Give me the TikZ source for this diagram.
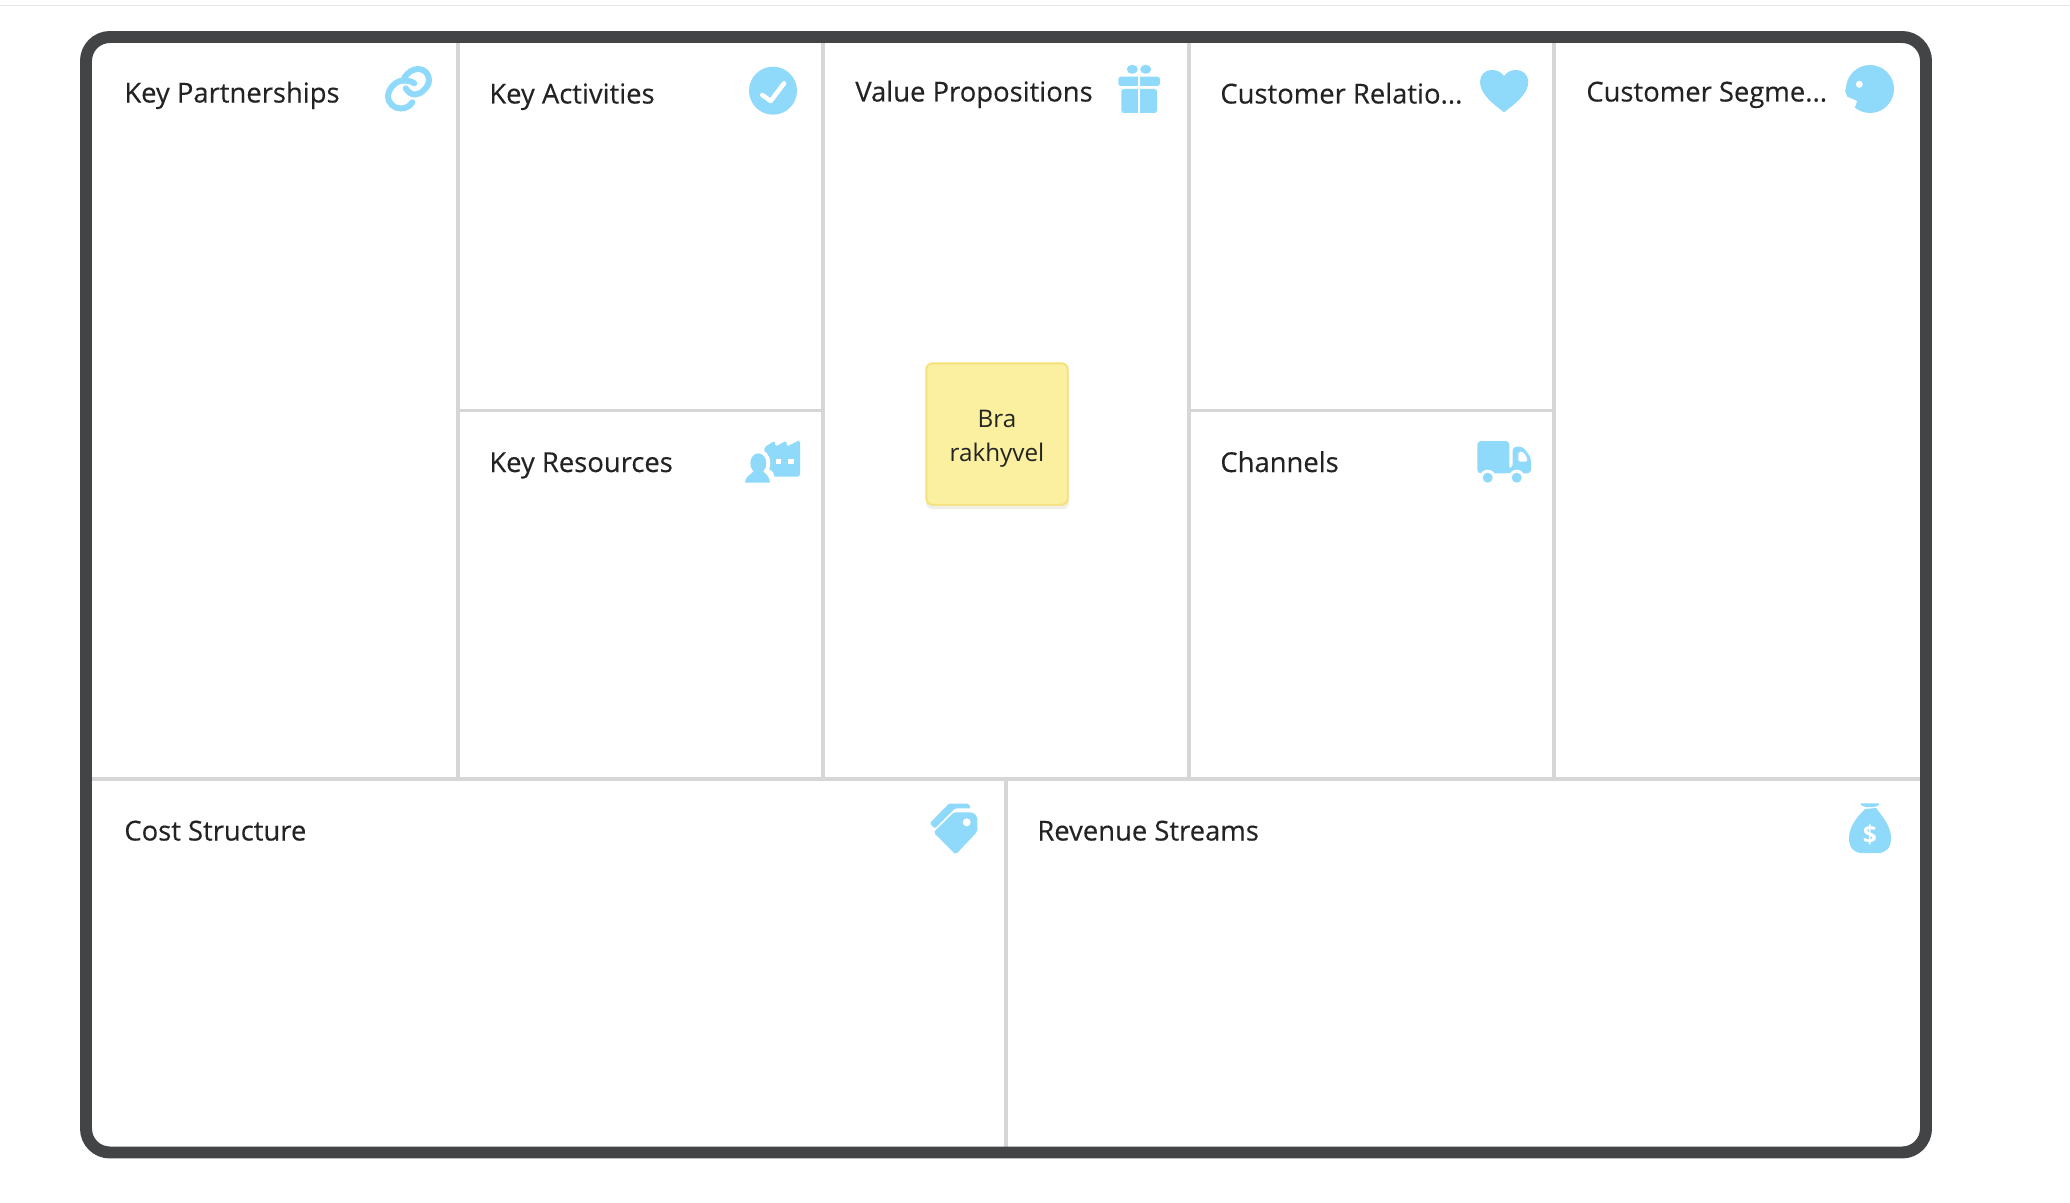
\documentclass[tikz,border=0pt]{standalone}
\usepackage{fontspec}
\setmainfont{Open Sans}
\newfontfamily\titlefont{Open Sans}[FakeBold=0.3]
\definecolor{framegray}{HTML}{434446}
\definecolor{linegray}{HTML}{D6D6D6}
\definecolor{topgray}{HTML}{E6E6E6}
\definecolor{iconblue}{HTML}{8FD9FA}
\definecolor{notefill}{HTML}{FBF0A0}
\definecolor{noteedge}{HTML}{F5E177}
\definecolor{noteshade}{HTML}{EFEFE6}
\definecolor{inkgray}{HTML}{232323}
\tikzset{
  divider/.style={draw=linegray, line width=2pt},
  celltitle/.style={anchor=base west, inner sep=0pt, text=inkgray, font=\titlefont\fontsize{15.6}{18}\selectfont},
  iconfill/.style={fill=iconblue, draw=none},
  iconlink/.style={draw=iconblue, line width=3.4pt, line cap=round},
  iconhole/.style={fill=white, draw=none},
  stickynote/.style={rectangle, rounded corners=3.5pt, fill=notefill, draw=noteedge, line width=1.1pt,
    minimum width=80.5pt, minimum height=80.5pt, inner sep=0pt},
  stickytext/.style={inner sep=0pt, align=center, text=inkgray, font=\fontsize{13.8}{19.3}\selectfont}
}
\begin{document}
\begin{tikzpicture}[x=0.02cm,y=0.02cm]
      \useasboundingbox (0,0) rectangle (2070,-1203);
      \draw [topgray, line width=1.1pt] (0,-5.5) -- (2070,-5.5);
      % grid
      \draw [divider] (458,-40) -- (458,-779);
      \draw [divider] (823,-40) -- (823,-779);
      \draw [divider] (1189,-40) -- (1189,-779);
      \draw [divider] (1554,-40) -- (1554,-779);
      \draw [divider] (458,-410.7) -- (823,-410.7);
      \draw [divider] (1189,-410.7) -- (1554,-410.7);
      \draw [divider] (90,-779) -- (1922,-779);
      \draw [divider] (1006,-779) -- (1006,-1148);
      \draw [framegray, line width=6.8pt, rounded corners=13.6pt] (86,-37) rectangle (1926,-1152.5);
      % titles
      \node [celltitle] (partners) at (124,-102.5) {Key Partnerships};
      \node [celltitle] (activities) at (489,-103.5) {Key Activities};
      \node [celltitle] (resources) at (489,-472) {Key Resources};
      \node [celltitle] (value) at (855,-101.5) {Value Propositions};
      \node [celltitle] (relations) at (1220,-103.5) {Customer Relatio...};
      \node [celltitle] (channels) at (1220,-472) {Channels};
      \node [celltitle] (segments) at (1586,-101.5) {Customer Segme...};
      \node [celltitle] (costs) at (124,-840.5) {Cost Structure};
      \node [celltitle] (revenue) at (1037,-840.5) {Revenue Streams};
      % note
      \fill [noteshade, rounded corners=3.5pt] (926,-368) rectangle (1069,-509);
      \node [stickynote] (note) at (997,-434) {};
      \node [stickytext] (notetext) at (997,-439) {Bra\\rakhyvel};
      % link icon
      \draw [iconlink] (404.3,-77.7) .. controls (408,-72) and (413,-69) .. (418.3,-69)
        .. controls (424.5,-69) and (429,-74) .. (429,-80)
        .. controls (429,-84) and (427,-87) .. (424,-90)
        .. controls (421,-93) and (418,-94.5) .. (415,-94.5)
        .. controls (411,-94.5) and (408,-92) .. (405.7,-88.3);
      \draw [iconlink] (414.3,-83.3) .. controls (412,-81.5) and (408,-80.5) .. (404.5,-80.5)
        .. controls (400,-80.5) and (396.5,-82) .. (393.5,-85)
        .. controls (390.5,-88) and (388,-92) .. (388,-96.7)
        .. controls (388,-103) and (394,-108.5) .. (400.5,-108.5)
        .. controls (406,-108.5) and (410,-106) .. (412.3,-102.3);
      % check icon
      \fill [iconfill] (773,-90.7) circle (24);
      \draw [white, line width=2.6pt, line cap=round, line join=round] (762.3,-95) -- (770.7,-101) -- (784,-83.3);
      % gift icon
      \fill [iconfill] (1132.3,-69.3) ellipse (5.5 and 4.5);
      \fill [iconfill] (1145.7,-69.3) ellipse (5.5 and 4.5);
      \fill [iconfill, rounded corners=1.5pt] (1118.3,-76.7) rectangle (1160,-86);
      \fill [iconfill, rounded corners=1.5pt] (1121.3,-89) rectangle (1157,-113);
      \fill [iconhole] (1137.7,-76) rectangle (1140,-114);
      % heart icon
      \fill [iconfill] (1504,-76) .. controls (1500,-71) and (1496,-70) .. (1491.5,-70)
        .. controls (1485,-70) and (1480,-75) .. (1480,-82)
        .. controls (1480,-95) and (1496,-106) .. (1504,-112.3)
        .. controls (1512,-106) and (1528.3,-95) .. (1528.3,-82)
        .. controls (1528.3,-75) and (1523,-70) .. (1516.5,-70)
        .. controls (1512,-70) and (1508,-71) .. (1504,-76);
      % face icon
      \fill [iconfill] (1870,-89) circle (24);
      \fill [iconfill] (1850,-78) -- (1845,-91) -- (1848,-97) -- (1856,-96) -- cycle;
      \fill [iconhole] (1848,-97) -- (1857,-101) -- (1855,-107) -- (1843,-108) -- (1841,-98) -- cycle;
      \fill [iconhole] (1859.3,-84.3) circle (3.5);
      % factory icon
      \fill [iconfill, rounded corners=1pt] (764.3,-447.3) -- (775,-440.7) -- (775,-446.7) -- (786.7,-440.7) -- (786.7,-446.7) -- (798.3,-440.7) -- (800,-440.7) -- (800,-476.7) -- (765,-476.7) -- cycle;
      \fill [iconhole] (775.7,-459) rectangle (781,-464);
      \fill [iconhole] (787.7,-459) rectangle (793.7,-464);
      % person in front of it
      \fill [iconhole] (758.3,-463) ellipse (12 and 14);
      \fill [iconhole, rounded corners=4pt] (745,-469) rectangle (774,-484);
      \fill [iconfill] (758.3,-463.3) ellipse (8 and 10);
      \fill [iconfill] (745,-482.7) .. controls (745,-476) and (752,-474) .. (755,-470) -- (762,-470) .. controls (765,-474) and (770,-476) .. (770,-482.7) -- cycle;
      % truck icon
      \fill [iconfill, rounded corners=2pt] (1477.3,-441) rectangle (1509.3,-473.3);
      \fill [iconfill, rounded corners=2pt] (1512.7,-446.7) -- (1523,-446.7) -- (1531,-458) -- (1531,-473.3) -- (1505,-473.3) -- (1505,-468) -- (1512.7,-468) -- cycle;
      \fill [iconhole, rounded corners=1pt] (1518.3,-451.7) -- (1523,-451.7) -- (1527.3,-458) -- (1527.3,-461.7) -- (1518.3,-461.7) -- cycle;
      \fill [iconhole] (1487.7,-477.7) circle (8);
      \fill [iconhole] (1516.7,-477.7) circle (8);
      \fill [iconfill] (1487.7,-477.7) circle (5);
      \fill [iconfill] (1516.7,-477.7) circle (5);
      % tag icon
      \fill [iconfill, rounded corners=0.8pt] (929.7,-823.3) -- (949,-803.5) -- (968.3,-803.5) -- (971,-808.3) -- (955,-808.3) -- (935,-828.5) -- cycle;
      \fill [iconfill, rounded corners=1pt] (933.5,-832.3) -- (954,-812.3) -- (972.7,-812.3) -- (977.3,-816.7) -- (977.3,-831.7) -- (955.7,-854.5) -- cycle;
      \fill [iconhole] (966.7,-822.3) circle (4);
      % bag icon
      \fill [iconfill, rounded corners=1pt] (1859.3,-803.3) -- (1880.7,-803.3) -- (1876,-807) -- (1864,-807) -- cycle;
      \fill [iconfill] (1865,-809) .. controls (1858,-816) and (1849,-826) .. (1849,-838)
        .. controls (1849,-848) and (1854,-853) .. (1862,-853) -- (1878,-853)
        .. controls (1886,-853) and (1891,-848) .. (1891,-838)
        .. controls (1891,-826) and (1882,-816) .. (1876,-808) -- cycle;
      \node [text=white, inner sep=0pt, font=\bfseries\fontsize{14}{16}\selectfont] (dollar) at (1870,-835) {\$};
\end{tikzpicture}
\end{document}
